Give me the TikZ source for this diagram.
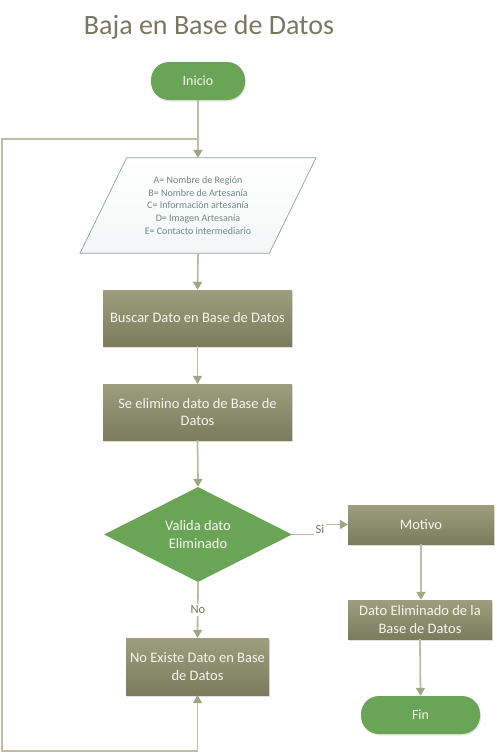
\documentclass[tikz,border=0pt]{standalone}
\usepackage{fontspec}
\setmainfont{Carlito}
\usetikzlibrary{shapes.geometric,arrows.meta,shadows,calc}
\definecolor{olivetop}{HTML}{9C9E7E}
\definecolor{olivebot}{HTML}{7A7C5D}
\definecolor{greenfill}{HTML}{6AA457}
\definecolor{connline}{HTML}{BDBDA6}
\definecolor{conntip}{HTML}{A2A482}
\definecolor{titlecol}{HTML}{777762}
\definecolor{paratextcol}{HTML}{6F8A84}
\definecolor{paraborder}{HTML}{8FA2A6}
\definecolor{boxtext}{HTML}{F6F6EE}
\tikzset{
  olivebox/.style={rectangle, draw=none, top color=olivetop, bottom color=olivebot,
    text=boxtext, font=\fontsize{14.5}{17.5}\selectfont, align=center, inner sep=2pt,
    drop shadow={opacity=0.25, shadow xshift=1pt, shadow yshift=-1.5pt}},
  terminal/.style={rectangle, rounded corners=18pt, fill=greenfill, draw=none,
    text=boxtext, font=\fontsize{14}{17}\selectfont, align=center,
    drop shadow={opacity=0.2, shadow xshift=1pt, shadow yshift=-1.5pt}},
  decision/.style={diamond, fill=greenfill, draw=none, aspect=2, inner sep=0pt,
    text=boxtext, font=\fontsize{14.5}{18}\selectfont, align=center},
  paranode/.style={rectangle, draw=none, inner sep=0pt, align=center,
    text=paratextcol, font=\fontsize{10}{12.6}\selectfont},
  conn/.style={draw=connline, line width=1.8pt},
  arr/.style={conn, -{Triangle[width=9pt,length=8pt,color=conntip]}},
  lbl/.style={fill=white, inner sep=1.5pt, text=titlecol, font=\fontsize{12.5}{14}\selectfont},
}
\begin{document}
\begin{tikzpicture}[x=1pt,y=-1pt]
\useasboundingbox (0,0) rectangle (497,753);

\node[text=titlecol, font=\fontsize{28}{33}\selectfont] (title) at (209,27) {Baja en Base de Datos};

\node[terminal, minimum width=94pt, minimum height=38pt] (inicio) at (198,81) {Inicio};

% data (parallelogram)
\node[paranode, minimum width=189pt, minimum height=95pt] (datos) at (198,205.5) {};
\path[top color=white, bottom color=white!90!paraborder, draw=paraborder, line width=0.7pt]
  ($(datos.north west)+(23.3,0)$) -- ($(datos.north east)+(23.3,0)$) --
  ($(datos.south east)+(-23.3,0)$) -- ($(datos.south west)+(-23.3,0)$) -- cycle;
\node[paranode] (datostext) at (datos.center)
  {A= Nombre de Región\\B= Nombre de Artesanía\\C= Información artesanía\\D= Imagen Artesanía\\E= Contacto intermediario};

\node[olivebox, minimum width=189pt, minimum height=56pt] (buscar) at (197.5,318) {Buscar Dato en Base de Datos};
\node[olivebox, minimum width=189pt, minimum height=56pt] (elimino) at (197.5,412) {Se elimino dato de Base de\\Datos};
\node[decision, minimum width=188pt, minimum height=95pt] (valida) at (198,534.5) {Valida dato\\Eliminado};
\node[olivebox, minimum width=146pt, minimum height=39pt] (motivo) at (421,524.5) {Motivo};
\node[olivebox, minimum width=144pt, minimum height=39pt] (datoelim) at (420,619.5) {Dato Eliminado de la\\Base de Datos};
\node[terminal, minimum width=119pt, minimum height=38pt] (fin) at (420.5,715) {Fin};
\node[olivebox, minimum width=143pt, minimum height=57pt] (noexiste) at (197.5,666.5) {No Existe Dato en Base\\de Datos};

\coordinate (j) at (198,139);
\coordinate (lb) at (2,751);
\coordinate (sj) at (320,534.5);

\draw[arr] (inicio.south) -- (datos.north);
\draw[arr] (j) -| (lb) -| (noexiste.south);
\draw[arr] (datos.south) -- (buscar.north);
\draw[arr] (buscar.south) -- (elimino.north);
\draw[arr] (elimino.south) -- (valida.north);
\draw[arr] (valida.south) -- (noexiste.north);
\draw[arr] (valida.east) -- (sj) |- (motivo.west);
\draw[arr] (motivo.south) -- (motivo.south |- datoelim.north);
\draw[arr] (datoelim.south) -- (fin.north);

\node[lbl] (no) at (198,610) {No};
\node[lbl] (si) at (320,529) {Si};
\end{tikzpicture}
\end{document}
